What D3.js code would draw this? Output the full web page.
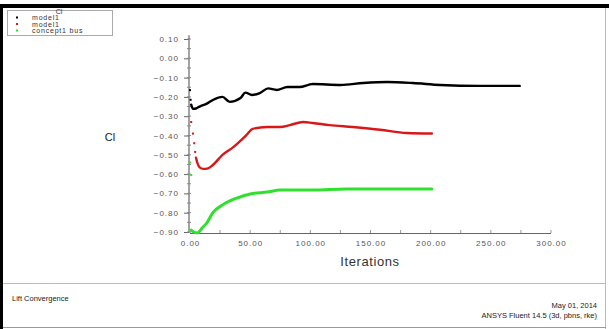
<!DOCTYPE html>
<html><head><meta charset="utf-8">
<script src="https://cdn.jsdelivr.net/npm/d3@7"></script>
<style>
html,body{margin:0;padding:0;background:#fff;}
svg{display:block;font-family:"Liberation Sans",Arial,sans-serif;}
</style></head>
<body>
<svg id="chart" width="609" height="329"></svg>
<script>
// ---- data ----
const xTicks = [0, 50, 100, 150, 200, 250, 300];
const yTicks = [0.10, 0.00, -0.10, -0.20, -0.30, -0.40, -0.50, -0.60, -0.70, -0.80, -0.90];
const seriesNames = ["model1", "model1", "concept1 bus"];

const blackIter = [1, 2.5, 5, 8, 14, 19, 27, 33, 42, 46, 51.5, 58, 65, 72, 81, 91, 102, 125, 144, 164, 185, 208, 241, 274];
const blackVal  = [-0.24, -0.262, -0.26, -0.25, -0.235, -0.216, -0.20, -0.226, -0.206, -0.178, -0.19, -0.18, -0.156, -0.164, -0.149, -0.149, -0.133, -0.138, -0.128, -0.123, -0.128, -0.138, -0.143, -0.143];
const blackDotIter = [0, 0.5];
const blackDotVal  = [-0.165, -0.215];

const redIter = [5, 6, 8, 11, 15, 19, 27, 36, 47, 52, 64, 75, 83, 94, 102, 116, 135, 158, 180, 201];
const redVal  = [-0.515, -0.54, -0.565, -0.573, -0.57, -0.553, -0.50, -0.46, -0.397, -0.366, -0.356, -0.356, -0.346, -0.33, -0.335, -0.346, -0.356, -0.37, -0.387, -0.39];
const redDotIter = [1, 2.5, 3.5, 4.3];
const redDotVal  = [-0.33, -0.39, -0.44, -0.485];

const greenIter = [1, 3, 6, 10, 14, 19, 27, 39, 50, 64, 75, 102, 130, 165, 201];
const greenVal  = [-0.89, -0.90, -0.905, -0.88, -0.853, -0.80, -0.76, -0.724, -0.703, -0.693, -0.683, -0.683, -0.677, -0.677, -0.677];
const greenDotIter = [0, 1];
const greenDotVal  = [-0.54, -0.605];

// ---- drawing ----
const svg = d3.select("#chart");
const x = d3.scaleLinear().domain([0, 300]).range([190, 551]);
const y = d3.scaleLinear().domain([-0.9, 0.1]).range([232, 39]);

// frame
svg.append("rect").attr("x", 0).attr("y", 4).attr("width", 609).attr("height", 4).attr("fill", "#000");
svg.append("rect").attr("x", 0).attr("y", 4).attr("width", 3).attr("height", 325).attr("fill", "#000");
svg.append("line").attr("x1", 605.5).attr("x2", 605.5).attr("y1", 8).attr("y2", 329).attr("stroke", "#bbb");
svg.append("line").attr("x1", 3).attr("x2", 606).attr("y1", 283.5).attr("y2", 283.5).attr("stroke", "#bbb");
svg.append("line").attr("x1", 3).attr("x2", 606).attr("y1", 327.5).attr("y2", 327.5).attr("stroke", "#999");

// axes
const axisColor = "#666";
const yAxis = d3.axisLeft(y).tickValues(yTicks).tickSize(5).tickFormat(d3.format(".2f"));
const gy = svg.append("g").attr("transform", "translate(189,0)").call(yAxis);
gy.select(".domain").attr("d", `M0,${y(0.12)}V${y(-0.9) + 1}`);
const gx = svg.append("g").attr("transform", "translate(0,233.5)")
  .call(d3.axisBottom(x).tickValues(xTicks).tickSize(0).tickPadding(7).tickFormat(d3.format(".2f")));
gx.select(".domain").attr("d", `M${x(0)},0H${x(300)}`);
[gx, gy].forEach(g => {
  g.select(".domain").attr("stroke", axisColor).attr("stroke-width", 1.2);
  g.selectAll(".tick line").attr("stroke", axisColor);
  g.selectAll(".tick text").attr("fill", "#555").style("font-size", "8px").style("letter-spacing", "1px");
});
gy.selectAll(".tick text").attr("x", -10);
// minor ticks
const yMinor = d3.range(-0.9, 0.1001, 0.05);
svg.append("g").selectAll("line").data(yMinor).join("line")
  .attr("x1", 187).attr("x2", 191).attr("y1", d => y(d)).attr("y2", d => y(d)).attr("stroke", "#888");
const xMinor = d3.range(0, 300.1, 25);
svg.append("g").selectAll("line").data(xMinor).join("line")
  .attr("x1", d => x(d)).attr("x2", d => x(d)).attr("y1", 230).attr("y2", 233).attr("stroke", "#999");

// titles
svg.append("text").attr("x", 110).attr("y", 141).attr("text-anchor", "middle")
  .style("font-size", "11px").attr("fill", "#222").text("Cl");
svg.append("text").attr("x", 370).attr("y", 266).attr("text-anchor", "middle")
  .style("font-size", "13px").style("letter-spacing", "0.6px").attr("fill", "#333").text("Iterations");

// series
const series = [
  {it: blackIter, v: blackVal, di: blackDotIter, dv: blackDotVal, color: "#000000", w: 2.4},
  {it: redIter, v: redVal, di: redDotIter, dv: redDotVal, color: "#d81818", w: 2.4},
  {it: greenIter, v: greenVal, di: greenDotIter, dv: greenDotVal, color: "#2fe02f", w: 3}
];
const line = d3.line().x(d => x(d[0])).y(d => y(d[1])).curve(d3.curveMonotoneX);
series.forEach(s => {
  const pts = s.it.map((d, i) => [d, s.v[i]]);
  svg.append("path").datum(pts).attr("d", line).attr("fill", "none")
    .attr("stroke", s.color).attr("stroke-width", s.w).attr("stroke-linejoin", "round").attr("stroke-linecap", "round");
  svg.append("g").selectAll("rect").data(s.di.map((d, i) => [d, s.dv[i]])).join("rect")
    .attr("x", d => x(d[0]) - 1).attr("y", d => y(d[1]) - 1).attr("width", 2).attr("height", 2).attr("fill", s.color);
});

// legend
const lg = svg.append("g");
lg.append("rect").attr("x", 7.5).attr("y", 10.5).attr("width", 105).attr("height", 25)
  .attr("fill", "#fff").attr("stroke", "#aaa");
const legColors = ["#000", "#d81818", "#2fe02f"];
lg.selectAll("text.entry").data(seriesNames).join("text").attr("class", "entry")
  .attr("x", 32).attr("y", (d, i) => 20 + i * 6.5).style("font-size", "7px").style("letter-spacing", "0.8px")
  .attr("fill", "#333").text(d => d);
lg.selectAll("rect.mk").data(seriesNames).join("rect").attr("class", "mk")
  .attr("x", 16).attr("y", (d, i) => 16.5 + i * 6.5).attr("width", 2).attr("height", 2).attr("fill", (d, i) => legColors[i]);
lg.append("text").attr("x", 59).attr("y", 13.5).attr("text-anchor", "middle").style("font-size", "7px").attr("fill", "#333").text("Cl");

// footer
svg.append("text").attr("x", 12).attr("y", 301).style("font-size", "7.5px").attr("fill", "#222").text("Lift Convergence");
svg.append("text").attr("x", 597).attr("y", 308).attr("text-anchor", "end").style("font-size", "7.5px").attr("fill", "#222").text("May 01, 2014");
svg.append("text").attr("x", 597).attr("y", 318).attr("text-anchor", "end").style("font-size", "7.5px").attr("fill", "#222").text("ANSYS Fluent 14.5 (3d, pbns, rke)");
</script>
</body></html>
